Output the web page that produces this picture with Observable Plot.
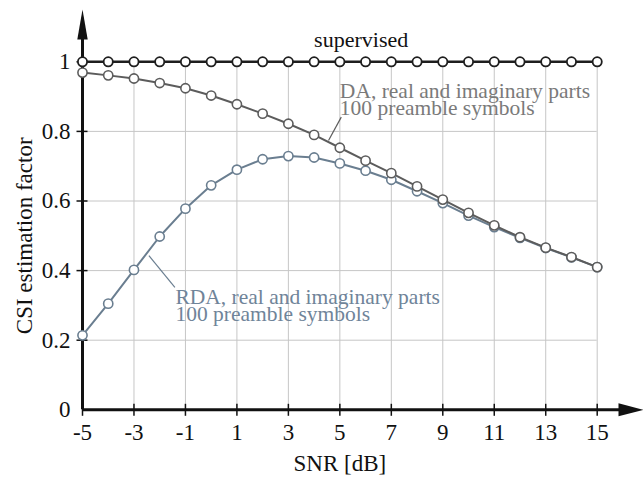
<!DOCTYPE html>
<html>
<head>
<meta charset="utf-8">
<script src="https://cdn.jsdelivr.net/npm/d3@7"></script>
<script src="https://cdn.jsdelivr.net/npm/@observablehq/plot@0.6"></script>
<style>
  html, body { margin: 0; padding: 0; background: #fff; }
</style>
</head>
<body>
<div id="chart"></div>
<script>
// ---- data ----
const snr = [-5, -4, -3, -2, -1, 0, 1, 2, 3, 4, 5, 6, 7, 8, 9, 10, 11, 12, 13, 14, 15];
const supervised = [1, 1, 1, 1, 1, 1, 1, 1, 1, 1, 1, 1, 1, 1, 1, 1, 1, 1, 1, 1, 1];
const da  = [0.969, 0.961, 0.952, 0.939, 0.924, 0.903, 0.878, 0.851, 0.822, 0.790, 0.753, 0.716, 0.680, 0.642, 0.604, 0.566, 0.530, 0.496, 0.466, 0.439, 0.410];
const rda = [0.214, 0.305, 0.402, 0.498, 0.578, 0.645, 0.690, 0.720, 0.729, 0.725, 0.708, 0.687, 0.661, 0.628, 0.594, 0.558, 0.525, 0.494, 0.465, 0.438, 0.410];
const xTicks = [-5, -3, -1, 1, 3, 5, 7, 9, 11, 13, 15];
const yTicks = [0, 0.2, 0.4, 0.6, 0.8, 1];
const labelSupervised = "supervised";
const labelDA = "DA, real and imaginary parts\n100 preamble symbols";
const labelRDA = "RDA, real and imaginary parts\n100 preamble symbols";
const xLabel = "SNR [dB]";
const yLabel = "CSI estimation factor";

const rows = snr.map((s, i) => ({snr: s, sup: supervised[i], da: da[i], rda: rda[i]}));

// ---- styles ----
const font = "Liberation Serif, Times New Roman, serif";
const cSup = "#1e1e1e", cDA = "#5c5c5c", cRDA = "#6a7e90";
const cDAText = "#7a7a7a", cRDAText = "#6f8499";
const cGrid = "#c6c6c6";

// custom symbols
const arrowRight = {draw(ctx) { ctx.moveTo(0, 0); ctx.lineTo(-25, -6.5); ctx.lineTo(-25, 6.5); ctx.closePath(); }};
const arrowUp = {draw(ctx) { ctx.moveTo(0, 0); ctx.lineTo(-5.2, 30); ctx.lineTo(5.2, 30); ctx.closePath(); }};
const vTick = {draw(ctx) { ctx.moveTo(0, -6); ctx.lineTo(0, 6); }};
const hTick = {draw(ctx) { ctx.moveTo(-6, 0); ctx.lineTo(5, 0); }};

const chart = Plot.plot({
  width: 643,
  height: 479,
  marginLeft: 82,
  marginRight: 46.3,
  marginTop: 61.3,
  marginBottom: 69.7,
  x: {domain: [-5, 15]},
  y: {domain: [0, 1]},
  style: {fontFamily: font, background: "#fff", overflow: "visible"},
  marks: [
    // grid
    Plot.ruleX(xTicks.filter(d => d > -5), {x: d => d, y1: 0, y2: 1, stroke: cGrid, strokeWidth: 1}),
    Plot.ruleY(yTicks.filter(d => d > 0), {y: d => d, x1: -5, x2: 15, stroke: cGrid, strokeWidth: 1}),
    // axes lines
    Plot.ruleY([0], {x1: -5, x2: 15.9, stroke: "#111", strokeWidth: 3}),
    Plot.ruleX([-5], {y1: 0, y2: 1.066, stroke: "#111", strokeWidth: 3}),
    Plot.dot([16.8], {x: d => d, y: 0, symbol: arrowRight, fill: "#111", stroke: "none"}),
    Plot.dot([-5], {x: d => d, y: 1.150, symbol: arrowUp, fill: "#111", stroke: "none"}),
    // ticks
    Plot.dot(xTicks, {x: d => d, y: 0, symbol: vTick, fill: "none", stroke: "#111", strokeWidth: 1.5}),
    Plot.dot(yTicks.filter(d => d > 0), {x: -5, y: d => d, symbol: hTick, fill: "none", stroke: "#111", strokeWidth: 1.5}),
    // tick labels
    Plot.axisX(xTicks, {tickSize: 0, tickPadding: 14, fontSize: 23, tickFormat: d => String(d), label: null, fill: "#111"}),
    Plot.axisY(yTicks, {tickSize: 0, tickPadding: 12, fontSize: 23, tickFormat: d => String(d), label: null, fill: "#111"}),
    // axis labels
    Plot.text([xLabel], {frameAnchor: "bottom", lineAnchor: "bottom", dy: 61.4, fontSize: 23, fill: "#111"}),
    Plot.text([yLabel], {frameAnchor: "left", textAnchor: "middle", lineAnchor: "bottom", rotate: -90, dx: -51, fontSize: 23, fill: "#111"}),
    // RDA
    Plot.line(rows, {x: "snr", y: "rda", stroke: cRDA, strokeWidth: 2}),
    Plot.dot(rows, {x: "snr", y: "rda", r: 4.6, fill: "#fff", stroke: cRDA, strokeWidth: 1.6}),
    // DA
    Plot.line(rows, {x: "snr", y: "da", stroke: cDA, strokeWidth: 2}),
    Plot.dot(rows, {x: "snr", y: "da", r: 4.6, fill: "#fff", stroke: cDA, strokeWidth: 1.6}),
    // supervised
    Plot.line(rows, {x: "snr", y: "sup", stroke: cSup, strokeWidth: 2.6}),
    Plot.dot(rows, {x: "snr", y: "sup", r: 4.6, fill: "#fff", stroke: cSup, strokeWidth: 1.8}),
    // annotations
    Plot.text([labelSupervised], {x: 4, y: 1.042, textAnchor: "start", lineAnchor: "bottom", fontSize: 22, fill: "#111"}),
    Plot.link([0], {x1: 5.055, y1: 0.841, x2: 4.56, y2: 0.774, stroke: cDA, strokeWidth: 1.2}),
    Plot.text([labelDA], {x: 5, y: 0.846, textAnchor: "start", lineAnchor: "bottom", lineHeight: 0.8, fontSize: 21.5, fill: cDAText}),
    Plot.link([0], {x1: -2.42, y1: 0.443, x2: -1.41, y2: 0.352, stroke: cRDA, strokeWidth: 1.2}),
    Plot.text([labelRDA], {x: -1.39, y: 0.254, textAnchor: "start", lineAnchor: "bottom", lineHeight: 0.8, fontSize: 21.5, fill: cRDAText})
  ]
});
document.getElementById("chart").appendChild(chart);
</script>
</body>
</html>
